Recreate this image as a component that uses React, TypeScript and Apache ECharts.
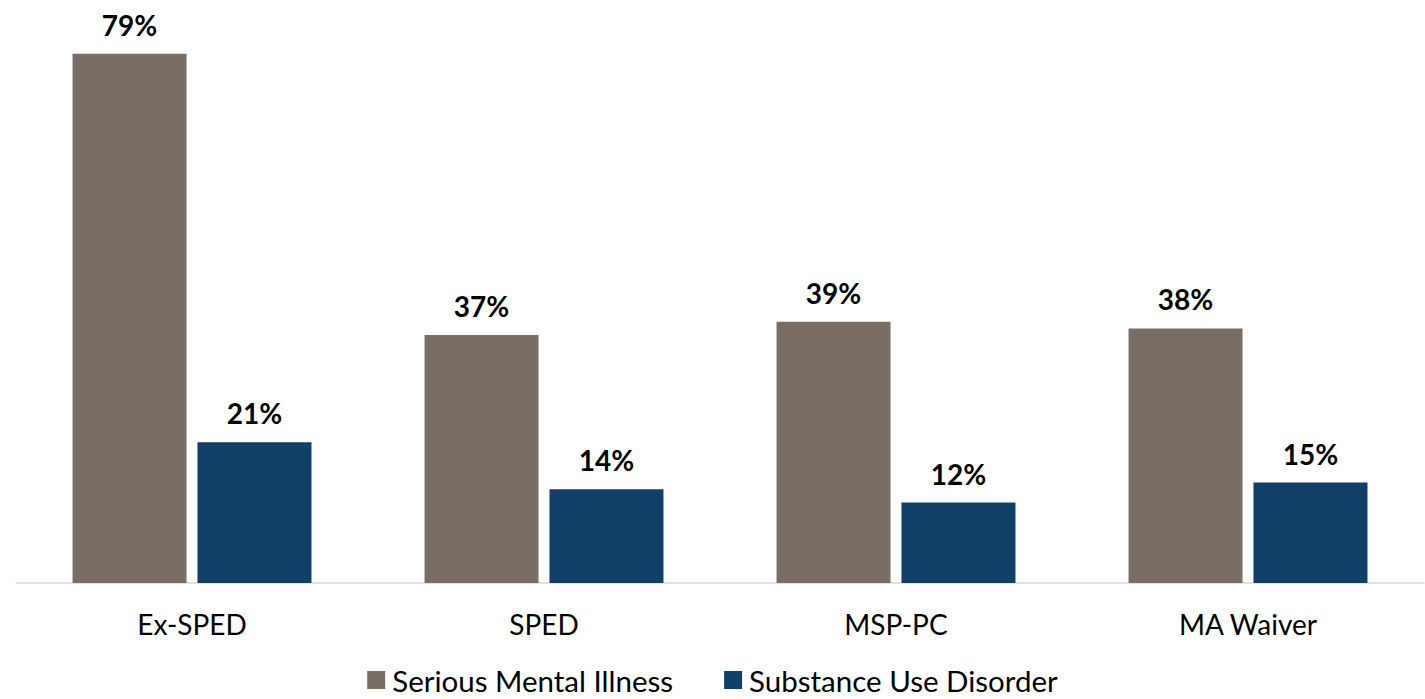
import React, { useEffect, useRef } from "react";
import * as echarts from "echarts";

const categories = ["Ex-SPED", "SPED", "MSP-PC", "MA Waiver"];
const seriesNames = ["Serious Mental Illness", "Substance Use Disorder"];
const smiValues = [79, 37, 39, 38];
const sudValues = [21, 14, 12, 15];
const colors = ["#786e64", "#113f67"];

const FONT = "Lato";

export default function App() {
  const ref = useRef<HTMLDivElement>(null);
  useEffect(() => {
    document.body.style.margin = "0";
    if (!ref.current) return;
    const chart = echarts.init(ref.current, undefined, { renderer: "svg" });
    const label = {
      show: true,
      position: "top" as const,
      distance: 15,
      formatter: "{c}%",
      fontFamily: FONT,
      fontSize: 28,
      fontWeight: "bold" as const,
      color: "#000",
    };
    chart.setOption({
      animation: false,
      textStyle: { fontFamily: FONT },
      grid: { left: 16, right: 1, top: 47, bottom: 116 },
      legend: {
        data: seriesNames,
        top: 665,
        left: "center",
        padding: 0,
        icon: "rect",
        itemWidth: 18,
        itemHeight: 18,
        itemGap: 51,
        textStyle: {
          fontFamily: FONT,
          fontSize: 29.5,
          lineHeight: 30,
          color: "#000",
          padding: [0, 0, 0, 2],
        },
      },
      xAxis: {
        type: "category",
        data: categories,
        axisLine: { lineStyle: { color: "#c5dbf0", width: 1.5 } },
        axisTick: { show: false },
        axisLabel: { fontFamily: FONT, fontSize: 28, color: "#000", margin: 27 },
      },
      yAxis: {
        type: "value",
        min: 0,
        max: 80,
        show: false,
        splitLine: { show: false },
      },
      series: [
        {
          name: seriesNames[0],
          type: "bar",
          data: smiValues,
          barWidth: 114,
          barGap: "9.6%",
          itemStyle: { color: colors[0] },
          label,
        },
        {
          name: seriesNames[1],
          type: "bar",
          data: sudValues,
          barWidth: 114,
          barGap: "9.6%",
          itemStyle: { color: colors[1] },
          label,
        },
      ],
    });
    return () => chart.dispose();
  }, []);
  return <div ref={ref} style={{ width: 1425, height: 699 }} />;
}
